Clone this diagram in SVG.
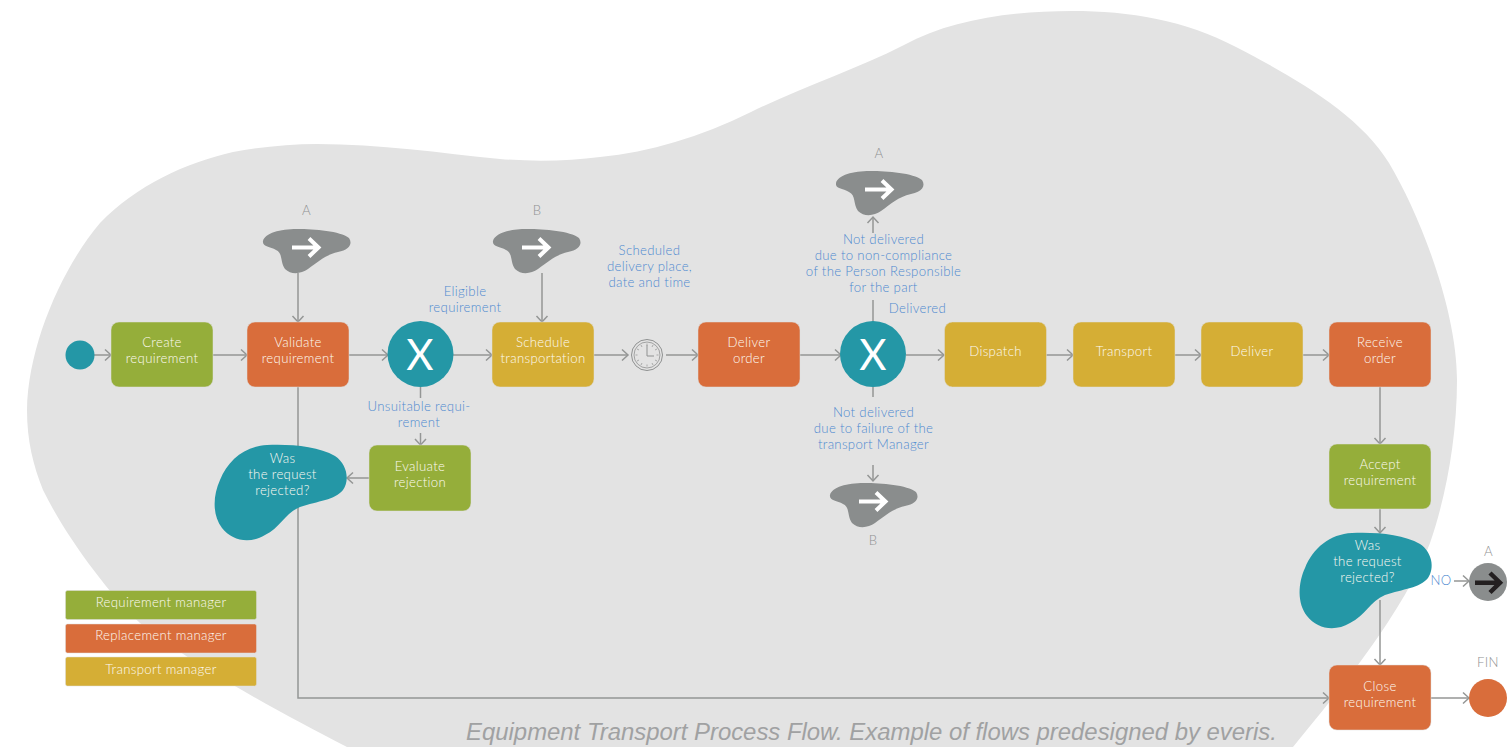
<svg xmlns="http://www.w3.org/2000/svg" width="1510" height="747" viewBox="0 0 1510 747">
<style>
text{font-family:Lato,"Open Sans","Liberation Sans",sans-serif;font-size:13.2px;font-weight:300;letter-spacing:.32px;text-anchor:middle}
.w{fill:#fdfaf2}
.b{fill:#4f8ad0}
.g{fill:#8f9192}
.box{stroke:#ddd;stroke-width:.5}
.gr{fill:#95ae3a}.or{fill:#d96d3b}.ye{fill:#d5ae35}.te{fill:#2497a6}
.c path{fill:none;stroke:#949695;stroke-width:1.5}
.x{font-size:42px;fill:#fff;font-weight:400;letter-spacing:0}
</style>
<defs>
<marker id="m" markerUnits="userSpaceOnUse" markerWidth="12" markerHeight="16" refX="10.5" refY="7" orient="auto" overflow="visible">
<path d="M4.500 1.500L10.500 7L4.500 12.500" fill="none" stroke="#949695" stroke-width="1.500"/>
</marker>
<path id="dec" d="M267 445C290 444 318 446 335 456C347 464 350 480 343 490C335 500 318 501 300 507C285 513 280 528 265 535C250 544 232 541 222 528C212 515 213 495 220 480C228 460 245 446 267 445Z" fill="#2497a6"/>
<path id="lnk" d="M263 241C265 233 280 229 297 229C315 229 340 231 349 238C353 244 349 250 338 252C325 255 318 262 308 269C301 274 291 275 285 269C280 262 283 253 276 250C270 246 262 247 263 241Z" fill="#8a8d8d"/>
<path id="arr" d="M292 247.500H318M309 238.500L318.500 247.500L309 256.500" fill="none" stroke="#fff" stroke-width="4"/>
</defs>
<path id="bg" d="M27 410C28 345 62 268 100 223C137 185 185 163 233 152C260 147 290 144 317 144C380 144 440 153 500 159C535 162 570 161 600 157C650 152 700 137 751 112C802 87 855 70 904 45C950 20 1010 11 1072 11C1130 11 1185 20 1236 47C1290 75 1359 113 1389 163C1420 215 1457 310 1457 380C1457 440 1445 500 1430 543C1405 610 1340 690 1293 747H347C280 712 200 670 140 623C107 592 65 535 43 490C33 465 27 440 27 410Z" fill="#e3e3e3"/>
<g id="connectors" class="c">
<path d="M94 355H111" marker-end="url(#m)"/>
<path d="M213 355H247" marker-end="url(#m)"/>
<path d="M349 355H388" marker-end="url(#m)"/>
<path d="M453 355H492" marker-end="url(#m)"/>
<path d="M594 355H628" marker-end="url(#m)"/>
<path d="M666 355H698" marker-end="url(#m)"/>
<path d="M800 355H841" marker-end="url(#m)"/>
<path d="M906 355H944" marker-end="url(#m)"/>
<path d="M1046 355H1073" marker-end="url(#m)"/>
<path d="M1175 355H1201" marker-end="url(#m)"/>
<path d="M1303 355H1329" marker-end="url(#m)"/>
<path d="M298 273V322" marker-end="url(#m)"/>
<path d="M542 273V322" marker-end="url(#m)"/>
<path d="M420.500 387V398"/>
<path d="M420.500 433V445" marker-end="url(#m)"/>
<path d="M369 478H347" marker-end="url(#m)"/>
<path d="M298 387V446"/>
<path d="M298 507V698H1329" marker-end="url(#m)"/>
<path d="M873 322V300"/>
<path d="M873 233V217" marker-end="url(#m)"/>
<path d="M873 387V397"/>
<path d="M873 465V481" marker-end="url(#m)"/>
<path d="M1380 387V444" marker-end="url(#m)"/>
<path d="M1380 509V533" marker-end="url(#m)"/>
<path d="M1380 600V665" marker-end="url(#m)"/>
<path d="M1454 581H1469" marker-end="url(#m)"/>
<path d="M1431 698H1469" marker-end="url(#m)"/>
</g>
<g id="start"><circle cx="80" cy="355" r="14.500" class="te"/></g>
<g id="create"><rect class="box gr" x="111" y="322" width="102" height="65" rx="8"/><text class="w" x="162" y="347">Create</text><text class="w" x="162" y="363">requirement</text></g>
<g id="validate"><rect class="box or" x="247" y="322" width="102" height="65" rx="8"/><text class="w" x="298" y="347">Validate</text><text class="w" x="298" y="363">requirement</text></g>
<g id="gw1"><circle cx="420.500" cy="354" r="33" class="te"/><text class="x" x="420" y="370">X</text></g>
<g id="schedule"><rect class="box ye" x="492" y="322" width="102" height="65" rx="8"/><text class="w" x="543" y="347">Schedule</text><text class="w" x="543" y="363">transportation</text></g>
<g id="timer" fill="none" stroke="#8f9191"><circle cx="647" cy="355" r="15.500" stroke-width="1"/><circle cx="647" cy="355" r="13" stroke-width=".8"/><path d="M647 345V356H654" stroke-width="1"/><path d="M647 343.500V345.500M647 364.500V366.500M635.500 355H637.500M656.500 355H658.500M641 345L642 347M653 345L652 347M641 365L642 363M653 365L652 363M637 349L639 350M657 349L655 350M637 361L639 360M657 361L655 360" stroke-width=".7"/></g>
<g id="deliver-order"><rect class="box or" x="698" y="322" width="102" height="65" rx="8"/><text class="w" x="749" y="347">Deliver</text><text class="w" x="749" y="363">order</text></g>
<g id="gw2"><circle cx="873" cy="354" r="33" class="te"/><text class="x" x="873" y="370">X</text></g>
<g id="dispatch"><rect class="box ye" x="944.500" y="322" width="102" height="65" rx="8"/><text class="w" x="995.500" y="356">Dispatch</text></g>
<g id="transport"><rect class="box ye" x="1073" y="322" width="102" height="65" rx="8"/><text class="w" x="1124" y="356">Transport</text></g>
<g id="deliver"><rect class="box ye" x="1201" y="322" width="102" height="65" rx="8"/><text class="w" x="1252" y="356">Deliver</text></g>
<g id="receive"><rect class="box or" x="1329" y="322" width="102" height="65" rx="8"/><text class="w" x="1380" y="347">Receive</text><text class="w" x="1380" y="363">order</text></g>
<g id="accept"><rect class="box gr" x="1329" y="444" width="102" height="65" rx="8"/><text class="w" x="1380" y="469">Accept</text><text class="w" x="1380" y="485">requirement</text></g>
<g id="close"><rect class="box or" x="1329" y="665" width="102" height="65" rx="8"/><text class="w" x="1380" y="691">Close</text><text class="w" x="1380" y="707">requirement</text></g>
<g id="evaluate"><rect class="box gr" x="369" y="445" width="102" height="66" rx="8"/><text class="w" x="420" y="471">Evaluate</text><text class="w" x="420" y="487">rejection</text></g>
<g id="decision1"><use href="#dec"/><text class="w" x="282.500" y="463">Was</text><text class="w" x="282.500" y="479">the request</text><text class="w" x="282.500" y="495">rejected?</text></g>
<g id="decision2"><use href="#dec" x="1085" y="88"/><text class="w" x="1367.500" y="550">Was</text><text class="w" x="1367.500" y="566">the request</text><text class="w" x="1367.500" y="582">rejected?</text></g>
<g id="linkA1"><text class="g" x="306.500" y="215">A</text><use href="#lnk"/><use href="#arr"/></g>
<g id="linkB1"><text class="g" x="537" y="215">B</text><use href="#lnk" x="230"/><use href="#arr" x="230"/></g>
<g id="linkA2"><text class="g" x="879" y="158">A</text><use href="#lnk" x="573" y="-58"/><use href="#arr" x="573" y="-58"/></g>
<g id="linkB2"><text class="g" x="873" y="545">B</text><use href="#lnk" x="567" y="254"/><use href="#arr" x="567" y="254"/></g>
<g id="linkA3"><text class="g" x="1488.500" y="556">A</text><circle cx="1488" cy="582" r="19" fill="#8a8d8d"/><path d="M1475 582.700H1500M1490 573L1500 582.700L1490 592.500" fill="none" stroke="#231f20" stroke-width="4.500"/></g>
<g id="fin"><text class="g" x="1488" y="667">FIN</text><circle cx="1488" cy="698" r="19" class="or"/></g>
<g id="labels">
<text class="b" x="465" y="296">Eligible</text><text class="b" x="465" y="312">requirement</text>
<text class="b" x="419" y="411">Unsuitable requi-</text><text class="b" x="419" y="427">rement</text>
<text class="b" x="649.500" y="255">Scheduled</text><text class="b" x="649.500" y="271">delivery place,</text><text class="b" x="649.500" y="287">date and time</text>
<text class="b" x="883.500" y="244">Not delivered</text><text class="b" x="883.500" y="260">due to non-compliance</text><text class="b" x="883.500" y="276">of the Person Responsible</text><text class="b" x="883.500" y="292">for the part</text>
<text class="b" x="917.500" y="313">Delivered</text>
<text class="b" x="873.500" y="417">Not delivered</text><text class="b" x="873.500" y="433">due to failure of the</text><text class="b" x="873.500" y="449">transport Manager</text>
<text class="b" x="1441" y="585">NO</text>
</g>
<g id="legend">
<g id="leg1"><rect class="box gr" x="65.500" y="590.500" width="191" height="29" rx="2"/><text class="w" x="161" y="607">Requirement manager</text></g>
<g id="leg2"><rect class="box or" x="65.500" y="624" width="191" height="29" rx="2"/><text class="w" x="161" y="640">Replacement manager</text></g>
<g id="leg3"><rect class="box ye" x="65.500" y="657" width="191" height="29" rx="2"/><text class="w" x="161" y="674">Transport manager</text></g>
</g>
<text id="caption" x="871.500" y="740" style="font-family:'Liberation Sans',sans-serif;font-size:23.900px;font-weight:400;letter-spacing:0;font-style:italic;fill:#a0a1a2">Equipment Transport Process Flow. Example of flows predesigned by everis.</text>
</svg>
